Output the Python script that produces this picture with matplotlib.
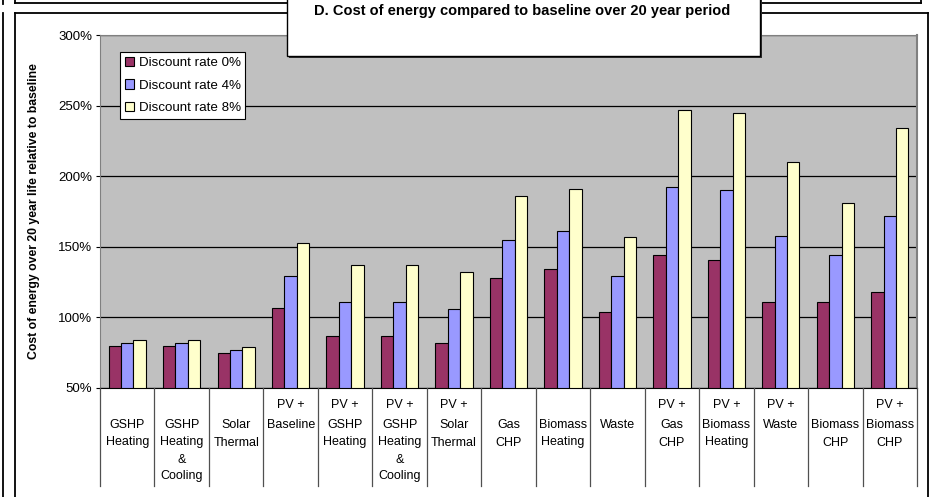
import matplotlib
matplotlib.use("Agg")
import matplotlib.pyplot as plt
from matplotlib.patches import Rectangle
from matplotlib.lines import Line2D
import numpy as np

plt.rcParams['font.family'] = ['Liberation Sans', 'DejaVu Sans']

categories = ["GSHP\nHeating", "GSHP\nHeating\n&\nCooling", "Solar\nThermal",
              "PV +\nBaseline", "PV +\nGSHP\nHeating", "PV +\nGSHP\nHeating\n&\nCooling",
              "PV +\nSolar\nThermal", "Gas\nCHP", "Biomass\nHeating", "Waste",
              "PV +\nGas\nCHP", "PV +\nBiomass\nHeating", "PV +\nWaste",
              "Biomass\nCHP", "PV +\nBiomass\nCHP"]
rate_0 = [80, 80, 75, 107, 87, 87, 82, 128, 134, 104, 144, 141, 111, 111, 118]
rate_4 = [82, 82, 77, 129, 111, 111, 106, 155, 161, 129, 192, 190, 158, 144, 172]
rate_8 = [84, 84, 79, 153, 137, 137, 132, 186, 191, 157, 247, 245, 210, 181, 234]
series_names = ["Discount rate 0%", "Discount rate 4%", "Discount rate 8%"]
colors = ["#993366", "#9999FF", "#FFFFCC"]
yticks = [50, 100, 150, 200, 250, 300]

W, H = 931, 497
fig = plt.figure(figsize=(W / 100, H / 100), dpi=100)

def fx(px):
    return px / W

def fy(py):
    return 1 - py / H

# frames of the surrounding sheet
for xs, ys in [([3, 3], [0, 4]), ([15, 15], [0, 3]), ([15, 921], [3, 3]), ([921, 921], [0, 3]),
               ([3, 3], [13, 497]), ([15, 15], [13, 497]), ([15, 928], [13, 13]), ([928, 928], [13, 497])]:
    fig.add_artist(Line2D([fx(x) for x in xs], [fy(y) for y in ys], color="black", lw=1.3))

ax = fig.add_axes([fx(100), fy(388), fx(917) - fx(100), fy(35) - fy(388)])
ax.set_facecolor("#C0C0C0")

x = np.arange(len(categories))
bw = 0.228
for i, (vals, name, c) in enumerate(zip([rate_0, rate_4, rate_8], series_names, colors)):
    ax.bar(x + (i - 1) * bw, np.array(vals) - 50, bw, bottom=50, color=c,
           edgecolor="black", linewidth=0.8, label=name, zorder=3)

ax.set_xlim(-0.5, len(categories) - 0.5)
ax.set_ylim(50, 300)
ax.set_yticks(yticks)
ax.set_yticklabels([f"{v}%" for v in yticks], fontsize=9.5)
ax.yaxis.grid(True, color="black", lw=0.9, zorder=1)
ax.set_axisbelow(True)
ax.tick_params(axis="y", length=3, width=0.8, pad=2.5, color="black")
ax.set_xticks([])
for s in ["left", "top"]:
    ax.spines[s].set_color("#808080")
ax.spines["right"].set_color("#808080")
ax.spines["right"].set_linewidth(1.5)
ax.spines["bottom"].set_color("black")

ax.set_ylabel("Cost of energy over 20 year life relative to baseline", fontsize=8.8,
              fontweight="bold")
ax.yaxis.set_label_coords((40 - 100) / 817, 0.5)

# category label table below the axis
for k in range(len(categories) + 1):
    xp = 100 + k * (817 / len(categories))
    fig.add_artist(Line2D([fx(xp), fx(xp)], [fy(388), fy(486)], color="#505050", lw=0.9))
row_y = [405, 425.5, 442.5, 460, 476.5]
for k, lab in enumerate(categories):
    lines = lab.split("\n")
    start = 0 if lines[0].startswith("PV") else 1
    xc = 100 + (k + 0.5) * (817 / len(categories))
    for j, t in enumerate(lines):
        fig.text(fx(xc), fy(row_y[start + j]), t, ha="center", va="center", fontsize=9)

leg = ax.legend(loc="upper left", bbox_to_anchor=(20 / 817, (388 - 52) / 353), fontsize=9.6,
                frameon=True, fancybox=False, edgecolor="black", framealpha=1,
                handlelength=0.7, handleheight=0.7, handletextpad=0.35, labelspacing=0.78,
                borderpad=0.35, borderaxespad=0)
leg.get_frame().set_linewidth(0.8)

# title box
fig.add_artist(Rectangle((fx(289), fy(58)), fx(762) - fx(289), fy(-5) - fy(58),
                         facecolor="#303030", edgecolor="none", zorder=9))
fig.add_artist(Rectangle((fx(287), fy(56)), fx(760) - fx(287), fy(-5) - fy(56),
                         facecolor="white", edgecolor="black", lw=1.0, zorder=10))
fig.text(fx(522), fy(10.5), "D. Cost of energy compared to baseline over 20 year period",
         ha="center", va="center", fontsize=10.5, fontweight="bold", zorder=11)

fig.savefig("out.png", dpi=100)
